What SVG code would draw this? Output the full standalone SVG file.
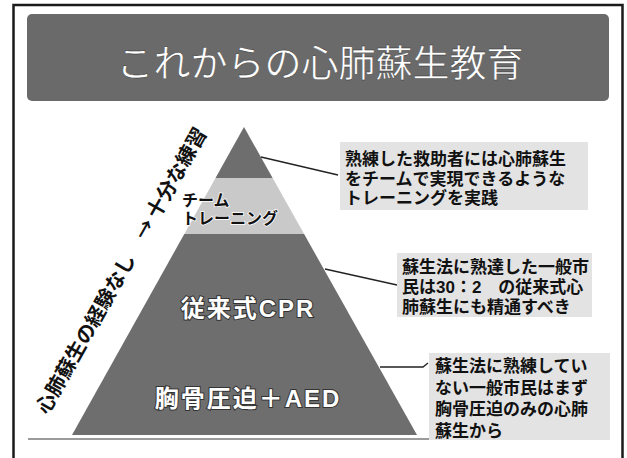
<svg xmlns="http://www.w3.org/2000/svg" width="627" height="458" viewBox="0 0 627 458">
<style>
.jp{font-family:"Liberation Sans","Noto Sans CJK JP","Noto Sans CJK SC",sans-serif}
.cjk{font-family:"Noto Sans CJK JP","Noto Sans CJK SC",sans-serif}
.call{font-size:17px;font-weight:bold;fill:#111}
.box{fill:#e3e3e3}
.dark{fill:#6e6e6e}
.light{fill:#c9c9c9}
.lbl{font-size:24px;font-weight:bold;fill:#fff;stroke:#333;stroke-width:2;paint-order:stroke;letter-spacing:2px}
.team{font-size:16px;font-weight:bold;fill:#111;stroke:#fff;stroke-width:1.5;paint-order:stroke}
.con{stroke:#222;stroke-width:1.3;fill:none}
</style>
<rect x="0" y="0" width="627" height="458" fill="#fff"/>
<g id="frame">
<path d="M13.5 470 V5 H622.5 V470" fill="none" stroke="#1a1a1a" stroke-width="2.5"/>
</g>
<g id="title">
<rect x="27" y="14" width="582" height="87" rx="5" fill="#6a6a6a"/>
<text class="jp" x="320" y="76.5" text-anchor="middle" font-size="37" fill="#fff" stroke="#2a2a2a" stroke-width="0.4">これからの心肺蘇生教育</text>
</g>
<g id="axis-label">
<text class="cjk" transform="translate(120 270) rotate(-60.5)" text-anchor="middle" dominant-baseline="central" font-size="20" font-weight="bold" fill="#111">心肺蘇生の経験なし　→ 十分な練習</text>
</g>
<g id="tier-top">
<polygon class="dark" points="244,127 272.6,178 215.5,178"/>
</g>
<g id="tier-team">
<polygon class="light" points="215.5,178 272.6,178 304.1,234 184.3,234"/>
<text class="jp team"><tspan x="182" y="206">チーム</tspan><tspan x="182" y="224">トレーニング</tspan></text>
</g>
<g id="tier-base">
<polygon class="dark" points="184.3,234 304.1,234 417,435 72,435"/>
<text class="jp lbl" x="248" y="316.5" text-anchor="middle">従来式CPR</text>
<text class="jp lbl" x="248" y="406.5" text-anchor="middle">胸骨圧迫＋AED</text>
</g>
<g id="connectors">
<line class="con" x1="261" y1="157" x2="338" y2="175"/>
<line class="con" x1="325" y1="269" x2="397" y2="285"/>
<polyline class="con" points="380,367 423,367 428,363"/>
<line x1="28" y1="439" x2="429" y2="439" stroke="#7a7a7a" stroke-width="1.5"/>
</g>
<g id="callout-1">
<rect class="box" x="340" y="142" width="248" height="68"/>
<text class="jp call"><tspan x="345" y="164.5">熟練した救助者には心肺蘇生</tspan><tspan x="345" y="184.5">をチームで実現できるような</tspan><tspan x="345" y="203.5">トレーニングを実践</tspan></text>
</g>
<g id="callout-2">
<rect class="box" x="397" y="253" width="195" height="64"/>
<text class="jp call"><tspan x="402" y="272.5">蘇生法に熟達した一般市</tspan><tspan x="402" y="292.5">民は30：2　の従来式心</tspan><tspan x="402" y="312.5">肺蘇生にも精通すべき</tspan></text>
</g>
<g id="callout-3">
<rect class="box" x="429" y="353" width="181" height="87"/>
<text class="jp call"><tspan x="435" y="371.5">蘇生法に熟練してい</tspan><tspan x="435" y="393.5">ない一般市民はまず</tspan><tspan x="435" y="414.5">胸骨圧迫のみの心肺</tspan><tspan x="435" y="436.5">蘇生から</tspan></text>
</g>
</svg>
